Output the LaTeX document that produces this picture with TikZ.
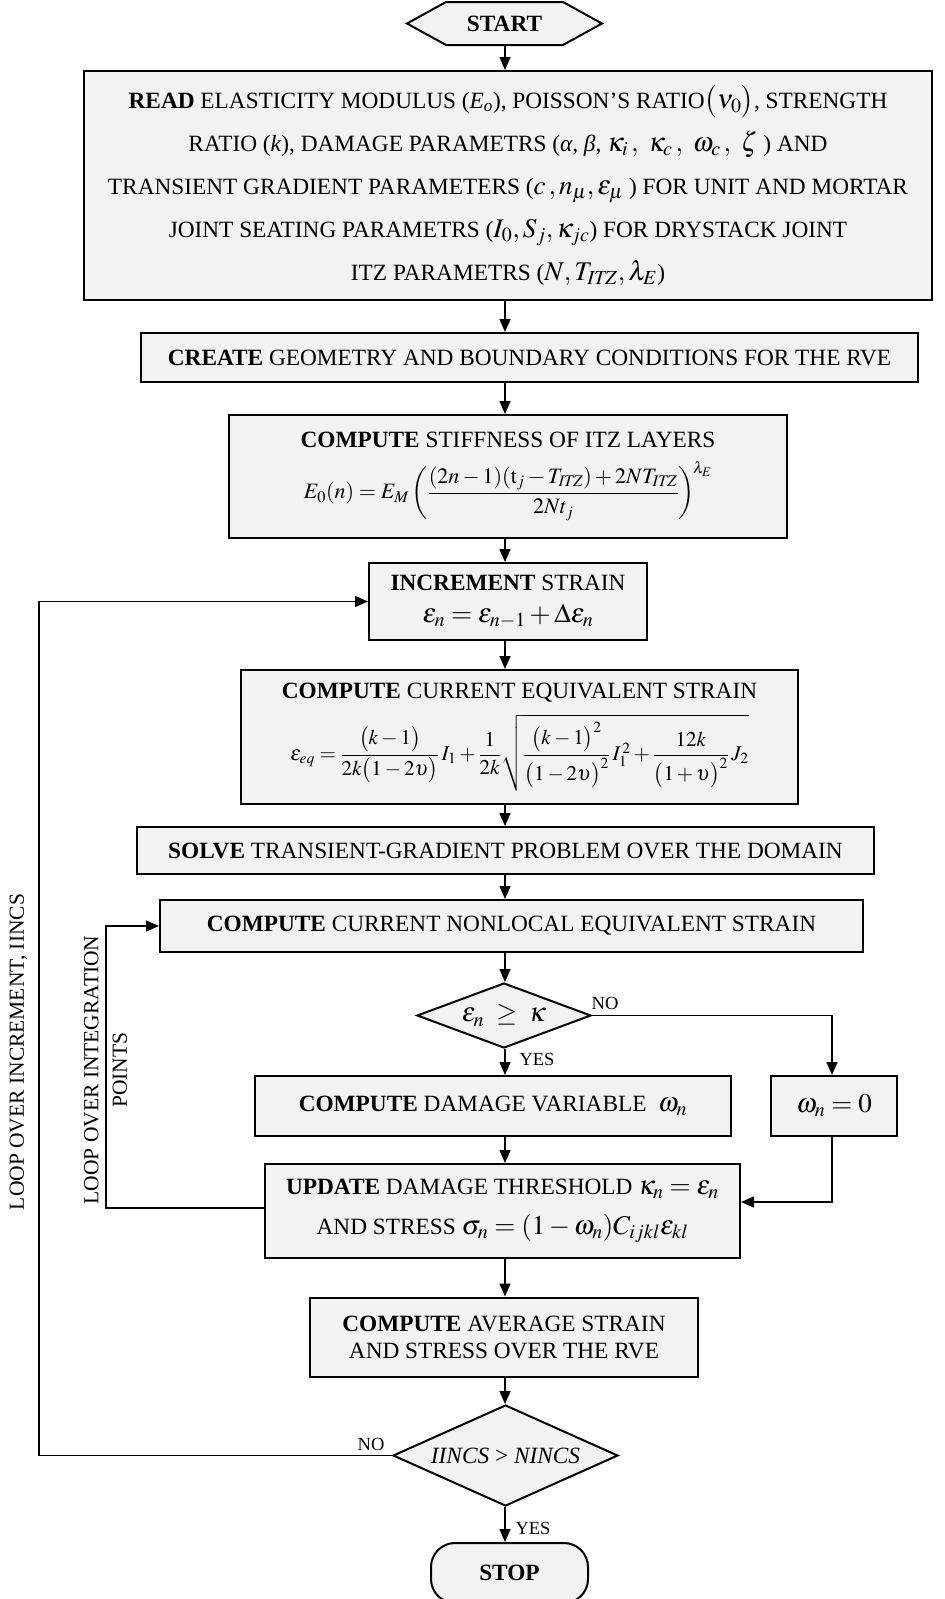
\documentclass[tikz,border=0pt]{standalone}
\usepackage{mathptmx}
\usepackage[no-math]{fontspec}
\setmainfont{Liberation Serif}
\usetikzlibrary{arrows.meta,shapes.geometric}
\definecolor{boxgray}{RGB}{242,242,242}
\newcommand{\fs}[2]{\fontsize{#1}{#2}\selectfont}
\newcommand{\mth}[1]{{\fontsize{27}{27}\selectfont$#1$}}
\tikzset{
  box/.style={draw=black, line width=2pt, fill=boxgray, inner sep=0pt, align=center},
  conn/.style={line width=1.4pt},
  arr/.style={conn, -{Triangle[length=13pt,width=11pt]}},
  lbl/.style={font=\fs{18.5}{20}, inner sep=0pt},
  looplbl/.style={font=\fs{21.5}{28.5}, inner sep=0pt, align=center, rotate=90},
}
\begin{document}
\begin{tikzpicture}[x=1pt,y=-1pt]
\useasboundingbox (0,0) rectangle (945,1599);
\coordinate (ax) at (505,0);

% START
\draw[line width=2pt, fill=boxgray] (407,23.5) -- (446,2) -- (563,2) -- (602,23.5) -- (563,45) -- (446,45) -- cycle;
\node[inner sep=0pt, minimum width=195, minimum height=43, font=\fs{23.3}{28}\bfseries] (start) at (504.5,23.5) {START};

\node[box, minimum width=848, minimum height=229, font=\fs{23.3}{43}] (read) at (508,185.5) {%
\textbf{READ} ELASTICITY MODULUS (\textit{E}\textsubscript{\textit{o}}), POISSON’S RATIO\mth{\bigl(\nu_0\bigr)}, STRENGTH\\
RATIO (\textit{k}), DAMAGE PARAMETRS (\textit{α}, \textit{β}, \mth{\kappa_i\,,\ \kappa_c\,,\ \omega_c\,,\ \zeta}\ ) AND\\
TRANSIENT GRADIENT PARAMETERS (\mth{c\,, n_\mu, \varepsilon_\mu}\ ) FOR UNIT AND MORTAR\\
JOINT SEATING PARAMETRS (\mth{I_0, S_j, \kappa_{jc}}) FOR DRYSTACK JOINT\\
ITZ PARAMETRS (\mth{N, T_{\mathit{ITZ}}, \lambda_E})};

\node[box, minimum width=777, minimum height=49, font=\fs{23.3}{28}] (create) at (529.5,357.5) {\textbf{CREATE} GEOMETRY AND BOUNDARY CONDITIONS FOR THE RVE};

\node[box, minimum width=558, minimum height=123, font=\fs{23.3}{43}] (itz) at (508,476.5) {%
\textbf{COMPUTE} STIFFNESS OF ITZ LAYERS\\[8pt]
{\fs{22}{26}$\displaystyle E_0(n) = E_M\left(\frac{(2n-1)(\mathrm{t}_j - T_{\mathit{ITZ}}) + 2NT_{\mathit{ITZ}}}{2Nt_j}\right)^{\!\lambda_E}$}};

\node[box, minimum width=278, minimum height=77, font=\fs{23.3}{32}] (incr) at (508,601.5) {%
\textbf{INCREMENT} STRAIN\\ \mth{\varepsilon_n = \varepsilon_{n-1} + \Delta\varepsilon_n}};

\node[box, minimum width=557, minimum height=134, font=\fs{23.3}{43}] (equiv) at (519.5,737) {%
\textbf{COMPUTE} CURRENT EQUIVALENT STRAIN\\[11pt]
{\fs{21}{24}$\displaystyle \varepsilon_{eq} = \frac{\bigl(k-1\bigr)}{2k\bigl(1-2\upsilon\bigr)}\, I_1 + \frac{1}{2k}\sqrt{\frac{\bigl(k-1\bigr)^2}{\bigl(1-2\upsilon\bigr)^2}\, I_1^{\,2} + \frac{12k}{\bigl(1+\upsilon\bigr)^2}\, J_2}$}};

\node[box, minimum width=737, minimum height=47, font=\fs{23.3}{28}] (solve) at (505.5,850.5) {\textbf{SOLVE} TRANSIENT-GRADIENT PROBLEM OVER THE DOMAIN};

\node[box, minimum width=703, minimum height=52, font=\fs{23.3}{28}] (nonloc) at (511.5,926) {\textbf{COMPUTE} CURRENT NONLOCAL EQUIVALENT STRAIN};

\node[box, shape=diamond, aspect=2.68, minimum width=174, minimum height=65] (d1) at (504,1015.5) {\mth{\varepsilon_n \;\geq\; \kappa}};

\node[box, minimum width=476, minimum height=60, font=\fs{23.3}{28}] (damage) at (493,1106) {\textbf{COMPUTE} DAMAGE VARIABLE \ \mth{\omega_n}};

\node[box, minimum width=126, minimum height=60] (zero) at (834,1106) {\mth{\omega_n = 0}};

\node[box, minimum width=475, minimum height=94, font=\fs{23.3}{40}] (update) at (502.5,1211) {%
\textbf{UPDATE} DAMAGE THRESHOLD \mth{\kappa_n = \varepsilon_n}\\
AND STRESS \mth{\sigma_n = (1-\omega_n)C_{ijkl}\varepsilon_{kl}}};

\node[box, minimum width=388, minimum height=79, font=\fs{23.3}{27}] (avg) at (504,1337) {%
\textbf{COMPUTE} AVERAGE STRAIN\\ AND STRESS OVER THE RVE};

\node[box, shape=diamond, aspect=2.23, minimum width=225, minimum height=101, font=\fs{23.3}{28}] (d2) at (505.5,1455.5) {\textit{IINCS} > \textit{NINCS}};

\node[box, rounded corners=24pt, minimum width=157, minimum height=60, font=\fs{23.3}{28}\bfseries] (stop) at (509.5,1573) {STOP};

% main flow
\foreach \a/\b in {start/read, read/create, create/itz, itz/incr, incr/equiv, equiv/solve, solve/nonloc, nonloc/d1, d1/damage, damage/update, update/avg, avg/d2, d2/stop}
  \draw[arr] (\a.south -| ax) -- (\b.north -| ax);

% NO branch of d1
\coordinate (c1) at (832,0);
\coordinate (uy) at (0,1202);
\draw[arr] (d1.east) -- (d1.east -| c1) -- (zero.north -| c1);
\draw[arr] (zero.south -| c1) -- (c1 |- uy) -- (update.east |- uy);

% inner loop
\coordinate (ix) at (106,0);
\coordinate (iy) at (0,1208);
\draw[arr] (update.west |- iy) -- (ix |- iy) -- (ix |- nonloc.west) -- (nonloc.west);

% outer loop
\coordinate (ox) at (39,0);
\draw[arr] (d2.west) -- (ox |- d2.west) -- (ox |- incr.west) -- (incr.west);

% labels
\node[lbl] (no1) at (605,1003) {NO};
\node[lbl] (yes1) at (537,1059) {YES};
\node[lbl] (no2) at (371,1444) {NO};
\node[lbl] (yes2) at (533,1528) {YES};
\node[looplbl] (outerlbl) at (18.5,1052) {LOOP OVER INCREMENT, IINCS};
\node[looplbl] (innerlbl) at (105.5,1070) {LOOP OVER INTEGRATION\\POINTS};
\end{tikzpicture}
\end{document}
